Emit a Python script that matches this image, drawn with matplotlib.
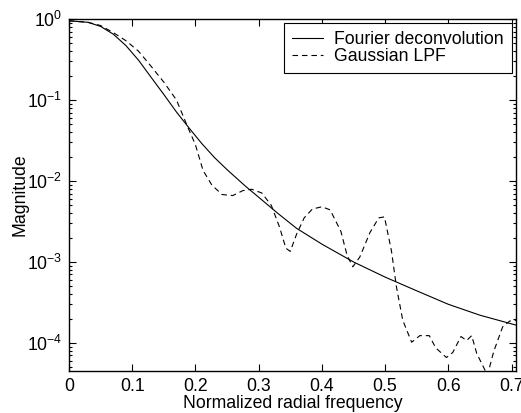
import numpy as np
import matplotlib
matplotlib.use('Agg')
import matplotlib.pyplot as plt
from matplotlib.ticker import LogLocator, NullFormatter

plt.rcParams['font.family'] = ['Liberation Sans', 'DejaVu Sans']
plt.rcParams['mathtext.fontset'] = 'custom'
plt.rcParams['mathtext.rm'] = 'Liberation Sans'
plt.rcParams['mathtext.it'] = 'Liberation Sans'
plt.rcParams['font.size'] = 12.7

# Curva da deconvolução de Fourier (frequência, magnitude)
freq_fourier = [0.00, 0.03, 0.05, 0.07, 0.09, 0.11, 0.13, 0.15, 0.17, 0.19, 0.21, 0.23,
                0.25, 0.28, 0.30, 0.33, 0.36, 0.40, 0.45, 0.50, 0.55, 0.60, 0.65, 0.707]
mag_fourier = [0.95, 0.91, 0.81, 0.65, 0.47, 0.31, 0.19, 0.117, 0.071, 0.045, 0.029, 0.0195,
               0.0138, 0.0085, 0.0063, 0.0040, 0.0026, 0.00166, 0.0010, 0.00065, 0.00044,
               0.00030, 0.00022, 0.000166]

# Curva do filtro gaussiano passa-baixa
freq_gauss = [0.00, 0.03, 0.05, 0.07, 0.09, 0.11, 0.13, 0.15, 0.17, 0.186, 0.20, 0.212,
              0.226, 0.242, 0.259, 0.275, 0.289, 0.305, 0.32, 0.333, 0.343, 0.35, 0.36,
              0.372, 0.385, 0.40, 0.413, 0.43, 0.44, 0.449, 0.46, 0.476, 0.49, 0.499,
              0.51, 0.518, 0.528, 0.542, 0.555, 0.57, 0.58, 0.597, 0.607, 0.62, 0.629,
              0.637, 0.645, 0.662, 0.672, 0.686, 0.697, 0.707]
mag_gauss = [0.95, 0.91, 0.83, 0.68, 0.54, 0.40, 0.26, 0.166, 0.100, 0.050, 0.028, 0.0135,
             0.0089, 0.0068, 0.0066, 0.0076, 0.0079, 0.0071, 0.0050, 0.0027, 0.00148,
             0.00135, 0.0022, 0.0035, 0.0045, 0.0048, 0.0044, 0.0024, 0.0012, 0.00087,
             0.00115, 0.0023, 0.0035, 0.0036, 0.00138, 0.00049, 0.00019, 0.000102,
             0.000123, 0.000123, 0.000087, 0.000066, 0.000076, 0.00012, 0.000107,
             0.000123, 0.000074, 0.000040, 0.000079, 0.000158, 0.000186, 0.00019]

xticks = [0, 0.1, 0.2, 0.3, 0.4, 0.5, 0.6, 0.7]
xticklabels = ['0', '0.1', '0.2', '0.3', '0.4', '0.5', '0.6', '0.7']

fig = plt.figure(figsize=(5.21, 4.13), dpi=100)
ax = fig.add_axes([69 / 521, 42 / 413, 447 / 521, 352 / 413])

ax.semilogy(freq_fourier, mag_fourier, 'k-', lw=0.8, label='Fourier deconvolution')
ax.semilogy(freq_gauss, mag_gauss, 'k--', lw=0.8, dashes=(5, 3.5), label='Gaussian LPF')

ax.set_xlim(0, 0.7071)
ax.set_ylim(4.5e-5, 1)
ax.set_xticks(xticks)
ax.set_xticklabels(xticklabels)
ax.yaxis.set_major_locator(LogLocator(base=10, numticks=10))
ax.yaxis.set_minor_locator(LogLocator(base=10, subs=np.arange(2, 10), numticks=20))
ax.yaxis.set_minor_formatter(NullFormatter())

ax.tick_params(which='both', direction='in', top=True, right=True, width=0.8)
ax.tick_params(which='major', length=5, pad=5)
ax.tick_params(which='minor', length=2.5)
for s in ax.spines.values():
    s.set_linewidth(1.0)

ax.set_xlabel('Normalized radial frequency', labelpad=0)
ax.set_ylabel('Magnitude', labelpad=-1)

leg = ax.legend(loc='upper right', fancybox=False, framealpha=1, edgecolor='k',
                borderaxespad=0.25, handlelength=1.8, handletextpad=0.6,
                labelspacing=0.0, borderpad=0.45)
leg.get_frame().set_linewidth(0.8)

fig.savefig('out.png', dpi=100)
